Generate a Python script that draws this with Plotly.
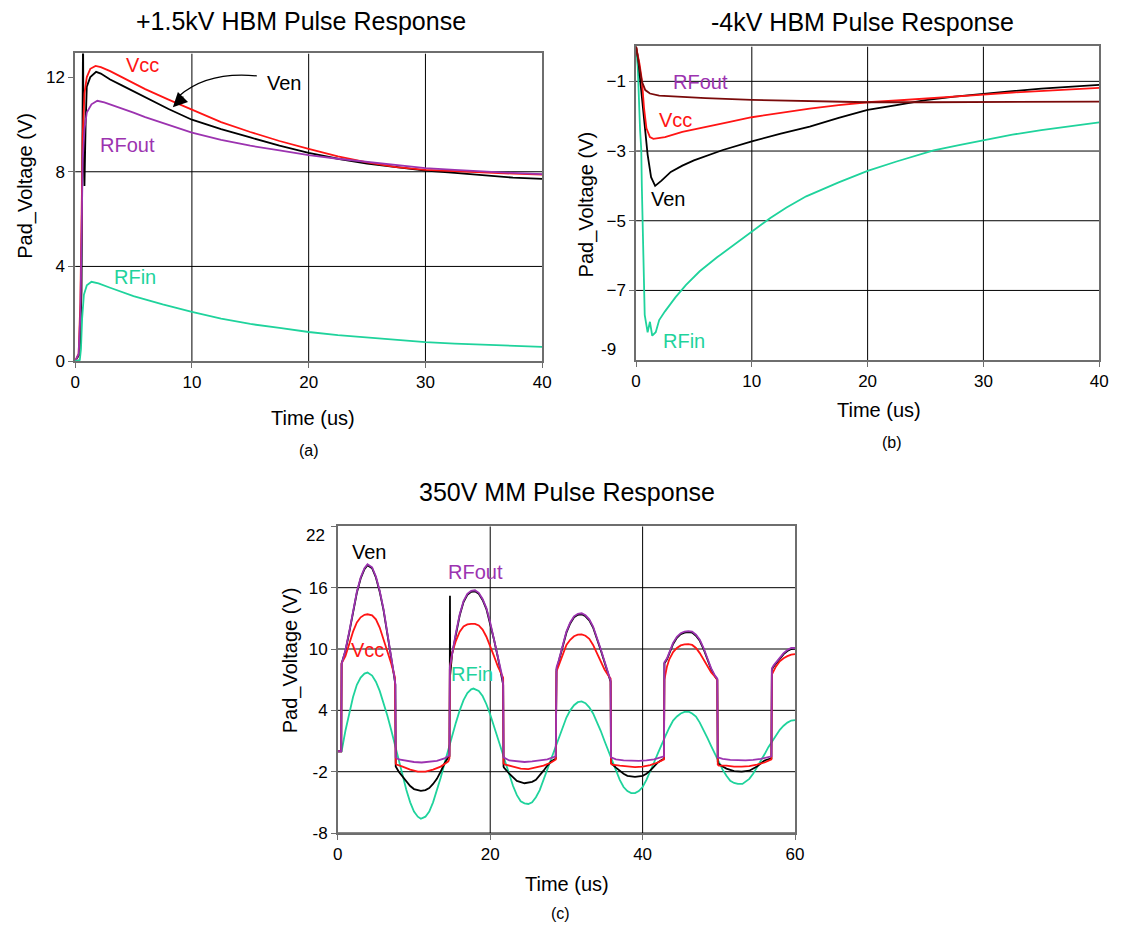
import plotly.graph_objects as go

# ---------------- Panel (a): +1.5kV HBM ----------------
A_T_VCC = [0, 0.3, 0.45, 0.55, 0.65, 0.8, 1.0, 1.3, 1.75, 2.2, 3, 4, 5, 6, 8, 10, 12.5, 15, 17.5, 20, 22.5, 25, 27.5, 30, 32.5, 35, 37.5, 40]
A_VCC = [0, 0.3, 2.5, 6, 9.5, 11.3, 12.0, 12.35, 12.47, 12.42, 12.25, 12.0, 11.75, 11.49, 11.05, 10.62, 10.1, 9.68, 9.3, 8.97, 8.65, 8.4, 8.2, 8.08, 8.02, 7.98, 7.92, 7.88]

A_T_VEN = [0, 0.4, 0.55, 0.62, 0.68, 0.72, 0.8, 0.9, 1.0, 1.3, 1.8, 2.2, 3, 4, 5, 6, 8, 10, 12.5, 15, 17.5, 20, 22.5, 25, 27.5, 30, 32.5, 35, 37.5, 40]
A_VEN = [0, 0.3, 3, 9, 14, 9, 7.4, 10, 11.6, 12.0, 12.22, 12.15, 11.9, 11.65, 11.4, 11.15, 10.65, 10.2, 9.8, 9.45, 9.1, 8.8, 8.55, 8.35, 8.2, 8.05, 7.95, 7.85, 7.75, 7.7]

A_T_RFOUT = [0, 0.3, 0.45, 0.55, 0.65, 0.8, 1.0, 1.4, 1.9, 2.5, 3, 4, 5, 6, 8, 10, 12.5, 15, 17.5, 20, 22.5, 25, 27.5, 30, 32.5, 35, 37.5, 40]
A_RFOUT = [0, 0.3, 2, 6, 8.5, 9.8, 10.5, 10.85, 11.0, 10.93, 10.85, 10.67, 10.5, 10.31, 9.97, 9.65, 9.35, 9.1, 8.9, 8.7, 8.55, 8.42, 8.28, 8.15, 8.08, 8.0, 7.95, 7.9]

A_T_RFIN = [0, 0.4, 0.5, 0.6, 0.75, 1.0, 1.4, 2, 3, 4, 5, 7.5, 10, 12.5, 15, 17.5, 20, 22.5, 25, 27.5, 30, 32.5, 35, 37.5, 40]
A_RFIN = [0, 0.05, 0.5, 1.8, 2.8, 3.2, 3.35, 3.28, 3.1, 2.92, 2.75, 2.4, 2.08, 1.8, 1.57, 1.4, 1.23, 1.1, 1.0, 0.9, 0.8, 0.74, 0.7, 0.64, 0.6]

# ---------------- Panel (b): -4kV HBM ----------------
B_T_RFOUT = [0, 0.2, 0.5, 0.8, 1.2, 2, 4, 6, 10, 14, 17.5, 20, 25, 30, 35, 40]
B_RFOUT = [0, -0.4, -1.0, -1.25, -1.35, -1.41, -1.45, -1.48, -1.53, -1.56, -1.58, -1.6, -1.6, -1.6, -1.6, -1.58]

B_T_VCC = [0, 0.3, 0.5, 0.7, 0.9, 1.2, 1.5, 2.5, 4, 6, 8, 10, 12.5, 15, 17.5, 20, 22.5, 25, 27.5, 30, 32.5, 35, 37.5, 40]
B_VCC = [0, -0.5, -0.95, -1.8, -2.35, -2.6, -2.65, -2.6, -2.45, -2.3, -2.17, -2.03, -1.9, -1.78, -1.68, -1.6, -1.55, -1.5, -1.44, -1.38, -1.32, -1.27, -1.23, -1.19]

B_T_VEN = [0, 0.2, 0.4, 0.7, 1.0, 1.3, 1.65, 2.2, 3, 4, 5, 7.5, 10, 12.5, 15, 17.5, 20, 22.5, 25, 27.5, 30, 32.5, 35, 37.5, 40]
B_VEN = [0, -0.4, -1.1, -2.2, -3.1, -3.75, -4.0, -3.85, -3.6, -3.42, -3.27, -2.97, -2.72, -2.5, -2.3, -2.05, -1.82, -1.68, -1.54, -1.44, -1.35, -1.28, -1.21, -1.15, -1.1]

B_T_RFIN = [0, 0.15, 0.35, 0.45, 0.5, 0.6, 0.75, 0.9, 1.0, 1.2, 1.4, 1.7, 2.0, 2.5, 3.4, 4.3, 5.5, 7, 8.5, 10, 11.6, 13, 14.7, 17.5, 20, 22.5, 25.7, 28, 30, 32.5, 35, 37.5, 40]
B_RFIN = [0, -0.6, -2.4, -2.95, -4.0, -6.0, -7.7, -8.0, -8.2, -7.9, -8.3, -8.2, -7.85, -7.6, -7.2, -6.85, -6.45, -6.05, -5.68, -5.3, -4.92, -4.62, -4.3, -3.9, -3.57, -3.3, -2.98, -2.82, -2.69, -2.53, -2.4, -2.28, -2.18]

# ---------------- Panel (c): 350V MM ----------------
C_T_VEN = [0, 0.45, 0.5, 1.0, 1.5, 2.0, 2.5, 3.0, 3.5, 3.9, 4.5, 5.0, 5.5, 6.0, 6.5, 7.0, 7.4, 7.55, 7.6,
           8.0, 8.5, 9.0, 9.5, 10.0, 10.9, 11.5, 12.0, 12.5, 13.0, 13.5, 14.0, 14.5, 14.65,
           14.7, 14.72, 14.75, 15.0, 15.5, 16.0, 16.5, 17.0, 17.5, 18.0, 18.5, 19.0, 19.5, 20.0, 20.5, 21.0, 21.5, 21.7, 21.75,
           21.8, 22.5, 23.0, 23.5, 24.5, 25.5, 26.0, 26.5, 27.0, 27.5, 28.0, 28.6,
           28.7, 29.0, 29.5, 30.0, 30.5, 31.0, 31.5, 32.0, 32.5, 33.0, 33.5, 34.0, 34.5, 35.0, 35.5, 35.8, 35.85,
           35.9, 36.5, 37.0, 37.5, 38.0, 39.0, 40.0, 40.5, 41.0, 41.5, 42.0, 42.8,
           42.86, 43.2, 43.5, 44.0, 44.5, 45.0, 45.5, 46.0, 46.5, 47.0, 47.5, 48.0, 48.5, 49.0, 49.5, 49.8, 49.86,
           49.9, 50.5, 51.0, 52.0, 53.0, 54.0, 54.5, 55.0, 55.5, 56.0, 56.9,
           56.96, 57.2, 57.5, 58.0, 58.5, 59.0, 59.5, 60.0]
C_VEN = [0, 0, 8.6, 9.8, 11.6, 13.6, 15.5, 16.9, 17.8, 18.2, 17.9, 17.0, 15.6, 13.8, 11.6, 9.4, 7.3, 6.5, -1.5,
         -2.0, -2.5, -3.0, -3.4, -3.7, -3.87, -3.8, -3.6, -3.2, -2.7, -2.0, -1.2, -0.6, -0.5,
         8.0, 15.2, 7.5, 9.5, 11.5, 13.3, 14.6, 15.3, 15.6, 15.65, 15.4, 14.8, 13.9, 12.5, 10.9, 9.2, 7.5, 6.5, -1.5,
         -1.6, -2.2, -2.6, -2.9, -3.13, -3.0, -2.8, -2.4, -1.9, -1.4, -1.0, -0.7,
         8.0, 8.8, 10.3, 11.6, 12.5, 13.1, 13.35, 13.4, 13.2, 12.8, 12.1, 11.1, 9.9, 8.7, 7.5, 6.8, -1.0,
         -1.2, -1.6, -1.9, -2.2, -2.4, -2.5, -2.4, -2.2, -1.9, -1.5, -1.1, -0.7,
         8.6, 9.0, 9.6, 10.5, 11.1, 11.45, 11.6, 11.66, 11.6, 11.3, 10.8, 10.0, 9.0, 8.0, 7.3, 7.0, -1.0,
         -1.2, -1.5, -1.7, -1.95, -2.0, -1.9, -1.7, -1.5, -1.2, -0.9, -0.7,
         8.0, 8.3, 8.6, 9.0, 9.5, 9.8, 10.0, 10.05]

C_T_RFOUT = [0, 0.45, 0.5, 1.0, 1.5, 2.0, 2.5, 3.0, 3.5, 3.9, 4.5, 5.0, 5.5, 6.0, 6.5, 7.0, 7.4, 7.55, 7.6,
             8.0, 9.0, 10.0, 11.0, 12.0, 13.0, 14.0, 14.65,
             14.7, 15.0, 15.5, 16.0, 16.5, 17.0, 17.5, 18.0, 18.5, 19.0, 19.5, 20.0, 20.5, 21.0, 21.5, 21.7, 21.75,
             22.5, 23.5, 24.5, 25.5, 26.5, 27.5, 28.6,
             28.7, 29.0, 29.5, 30.0, 30.5, 31.0, 31.5, 32.0, 32.5, 33.0, 33.5, 34.0, 34.5, 35.0, 35.5, 35.8, 35.85,
             36.5, 37.5, 38.5, 39.5, 40.5, 41.5, 42.8,
             42.86, 43.2, 43.5, 44.0, 44.5, 45.0, 45.5, 46.0, 46.5, 47.0, 47.5, 48.0, 48.5, 49.0, 49.5, 49.8, 49.86,
             50.5, 51.5, 52.5, 53.5, 54.5, 55.5, 56.9,
             56.96, 57.2, 57.5, 58.0, 58.5, 59.0, 59.5, 60.0]
C_RFOUT = [0, 0, 8.5, 9.9, 11.7, 13.7, 15.6, 17.0, 17.9, 18.3, 18.0, 17.1, 15.7, 13.9, 11.7, 9.5, 7.4, 6.6, -0.6,
           -0.8, -0.95, -1.05, -1.1, -1.05, -0.95, -0.7, -0.4,
           8.2, 9.6, 11.6, 13.4, 14.7, 15.4, 15.7, 15.75, 15.5, 14.9, 14.0, 12.6, 11.0, 9.3, 7.6, 6.6, -0.6,
           -0.9, -1.0, -1.05, -1.0, -0.9, -0.8, -0.5,
           8.2, 8.9, 10.4, 11.7, 12.6, 13.2, 13.45, 13.5, 13.3, 12.9, 12.2, 11.2, 10.0, 8.8, 7.6, 6.9, -0.6,
           -0.8, -0.9, -0.95, -0.95, -0.9, -0.8, -0.5,
           8.7, 9.1, 9.7, 10.6, 11.2, 11.55, 11.7, 11.75, 11.7, 11.4, 10.9, 10.1, 9.1, 8.1, 7.4, 7.1, -0.6,
           -0.75, -0.85, -0.9, -0.9, -0.85, -0.75, -0.5,
           8.1, 8.4, 8.7, 9.1, 9.6, 9.9, 10.1, 10.1]

C_T_VCC = [0, 0.45, 0.5, 1.0, 1.5, 2.0, 2.5, 3.0, 3.5, 3.9, 4.5, 5.0, 5.5, 6.0, 6.5, 7.0, 7.4, 7.5, 7.6,
           7.7, 8.5, 9.5, 10.5, 11.5, 12.5, 13.5, 14.5, 14.65,
           14.7, 15.0, 15.5, 16.0, 16.5, 17.0, 17.5, 18.0, 18.5, 19.0, 19.5, 20.0, 20.5, 21.0, 21.5, 21.7, 21.75,
           22.0, 23.0, 24.0, 25.0, 26.0, 27.0, 28.0, 28.6,
           28.7, 29.0, 29.5, 30.0, 30.5, 31.0, 31.5, 32.0, 32.5, 33.0, 33.5, 34.0, 34.5, 35.0, 35.5, 35.8, 35.85,
           36.0, 37.0, 38.0, 39.0, 40.0, 41.0, 42.0, 42.8,
           42.86, 43.2, 43.5, 44.0, 44.5, 45.0, 45.5, 46.0, 46.5, 47.0, 47.5, 48.0, 48.5, 49.0, 49.5, 49.8, 49.86,
           50.0, 51.0, 52.0, 53.0, 54.0, 55.0, 56.0, 56.9,
           56.96, 57.3, 57.5, 58.0, 58.5, 59.0, 59.5, 60.0]
C_VCC = [0, 0, 8.6, 9.3, 10.5, 11.7, 12.6, 13.1, 13.35, 13.4, 13.3, 12.9, 12.1, 11.0, 9.8, 8.6, 7.5, 7.2, -1.2,
         -1.3, -1.5, -1.8, -2.0, -2.0, -1.8, -1.5, -1.0, -0.7,
         8.0, 9.6, 10.8, 11.7, 12.2, 12.4, 12.46, 12.45, 12.3, 11.9, 11.2, 10.3, 9.3, 8.3, 7.6, 7.2, -1.2,
         -1.3, -1.5, -1.7, -1.75, -1.6, -1.4, -1.1, -0.8,
         7.8, 8.4, 9.5, 10.4, 10.9, 11.25, 11.4, 11.43, 11.3, 11.0, 10.4, 9.6, 8.8, 8.0, 7.4, 7.1, -1.2,
         -1.3, -1.4, -1.5, -1.55, -1.5, -1.35, -1.1, -0.8,
         7.0, 8.3, 9.0, 9.7, 10.1, 10.35, 10.45, 10.47, 10.4, 10.1, 9.6, 9.0, 8.3, 7.7, 7.3, 7.0, -1.3,
         -1.4, -1.4, -1.5, -1.5, -1.45, -1.3, -1.1, -0.8,
         7.5, 8.0, 8.3, 8.8, 9.1, 9.3, 9.45, 9.5]

C_T_RFIN = [0, 0.5, 1.0, 1.5, 2.0, 2.5, 3.0, 3.5, 3.9, 4.5, 5.0, 5.5, 6.0, 6.5, 7.0, 7.5, 8.0, 8.5, 9.0, 9.5, 10.0,
            10.5, 10.9, 11.5, 12.0, 12.5, 13.0, 13.5, 14.0, 14.5, 15.0, 15.5, 16.0, 16.5, 17.0, 17.5, 17.8, 18.5,
            19.0, 19.5, 20.0, 20.5, 21.0, 21.5, 22.0, 22.5, 23.0, 23.5, 24.0, 24.5, 25.0, 25.5, 26.0, 26.5, 27.0,
            27.5, 28.0, 28.5, 29.0, 29.5, 30.0, 30.5, 31.0, 31.5, 32.0, 32.5, 33.0, 33.5, 34.0, 34.5, 35.0, 35.5,
            36.0, 36.5, 37.0, 37.5, 38.0, 38.5, 39.0, 39.5, 40.0, 40.5, 41.0, 41.5, 42.0, 42.5, 43.0, 43.5, 44.0,
            44.5, 45.0, 45.5, 46.1, 46.5, 47.0, 47.5, 48.0, 48.5, 49.0, 49.5, 50.0, 50.5, 51.0, 51.5, 52.0, 52.5,
            53.1, 53.5, 54.0, 54.5, 55.0, 55.5, 56.0, 56.5, 57.0, 57.5, 58.0, 58.5, 59.0, 59.5, 60.0]
C_RFIN = [0, 0.0, 2.0, 3.8, 5.3, 6.5, 7.2, 7.6, 7.7, 7.4, 6.8, 5.9, 4.8, 3.5, 2.1, 0.6, -0.9, -2.4, -3.8, -5.0, -5.9,
          -6.4, -6.6, -6.4, -5.9, -5.0, -3.9, -2.6, -1.2, 0.2, 1.5, 2.8, 4.0, 5.0, 5.7, 6.05, 6.13, 5.9,
          5.4, 4.6, 3.6, 2.5, 1.3, 0.1, -1.1, -2.3, -3.4, -4.3, -4.9, -5.1, -5.16, -5.0, -4.5, -3.8, -2.8,
          -1.8, -0.7, 0.4, 1.4, 2.4, 3.3, 4.0, 4.5, 4.8, 4.87, 4.7, 4.3, 3.7, 2.9, 2.0, 1.0, 0.0,
          -1.0, -2.0, -2.8, -3.5, -3.9, -4.1, -4.1, -3.9, -3.5, -2.8, -2.0, -1.1, -0.2, 0.7, 1.5, 2.3, 3.0,
          3.4, 3.7, 3.85, 3.85, 3.7, 3.4, 2.8, 2.1, 1.3, 0.5, -0.3, -1.1, -1.8, -2.4, -2.9, -3.1, -3.2,
          -3.2, -3.0, -2.7, -2.2, -1.6, -1.0, -0.3, 0.4, 1.0, 1.6, 2.1, 2.5, 2.8, 3.0, 3.05]

# ticks / labels
A_YTICKS = [0, 4, 8, 12]
B_YTICKS = [-1, -3, -5, -7]
C_YTICKS = [22, 16, 10, 4, -2, -8]
AB_XTICKS = [0, 10, 20, 30, 40]
C_XTICKS = [0, 20, 40, 60]

RED = "#ff1414"
PURPLE = "#9c33b0"
TEAL = "#1fd39c"
BLACK = "#000000"
DARKRED = "#7a0a0a"
FONT = "Liberation Sans, Arial, sans-serif"
W, H = 1123, 939

fig = go.Figure()

def add(x, y, color, xa, ya, width=1.8):
    fig.add_trace(go.Scatter(x=x, y=y, mode="lines", line=dict(color=color, width=width),
                             xaxis=xa, yaxis=ya, showlegend=False, hoverinfo="skip"))

# panel a
add(A_T_VEN, A_VEN, BLACK, "x", "y")
add(A_T_VCC, A_VCC, RED, "x", "y")
add(A_T_RFOUT, A_RFOUT, PURPLE, "x", "y")
add(A_T_RFIN, A_RFIN, TEAL, "x", "y")
# panel b
add(B_T_RFIN, B_RFIN, TEAL, "x2", "y2")
add(B_T_VEN, B_VEN, BLACK, "x2", "y2")
add(B_T_VCC, B_VCC, RED, "x2", "y2")
add(B_T_RFOUT, B_RFOUT, DARKRED, "x2", "y2")
# panel c
add(C_T_RFIN, C_RFIN, TEAL, "x3", "y3")
add(C_T_VEN, C_VEN, BLACK, "x3", "y3")
add(C_T_VCC, C_VCC, RED, "x3", "y3")
add(C_T_RFOUT, C_RFOUT, PURPLE, "x3", "y3")

def px_dom(a, b, total):
    return [a / total, b / total]

def py_dom(top, bottom):
    return [1 - bottom / H, 1 - top / H]

axis_common = dict(showline=True, mirror=True, linecolor="#6e6e6e", linewidth=1.5,
                   ticks="outside", ticklen=5, tickcolor="#6e6e6e", showgrid=False, zeroline=False,
                   tickfont=dict(family=FONT, size=17, color="#000"))

fig.update_layout(
    width=W, height=H, margin=dict(l=0, r=0, t=0, b=0), autosize=False,
    paper_bgcolor="white", plot_bgcolor="white",
    font=dict(family=FONT, color="#000"),
    xaxis=dict(domain=px_dom(71, 544, W), range=[0, 40], tickvals=AB_XTICKS, anchor="y", **axis_common),
    yaxis=dict(domain=py_dom(54, 365), range=[0, 13], tickvals=A_YTICKS, anchor="x", **axis_common),
    xaxis2=dict(domain=px_dom(639, 1108, W), range=[0, 40], tickvals=AB_XTICKS, anchor="y2", **axis_common),
    yaxis2=dict(domain=py_dom(47, 364), range=[-9, 0], tickvals=B_YTICKS, anchor="x2", **axis_common),
    xaxis3=dict(domain=px_dom(337, 800, W), range=[0, 60], tickvals=C_XTICKS, anchor="y3", **axis_common),
    yaxis3=dict(domain=py_dom(532, 842), range=[-8, 22], tickvals=C_YTICKS,
                ticktext=["", "16", "10", "4", "-2", "-8"], anchor="x3", **axis_common),
)

shapes = []
def hline(v, xa, ya, x0, x1):
    shapes.append(dict(type="line", xref=xa, yref=ya, x0=x0, x1=x1, y0=v, y1=v,
                       line=dict(color="black", width=1), layer="below"))
def vline(v, xa, ya, y0, y1):
    shapes.append(dict(type="line", xref=xa, yref=ya, x0=v, x1=v, y0=y0, y1=y1,
                       line=dict(color="black", width=1), layer="below"))

for v in [4, 8]:
    hline(v, "x", "y", 0, 40)
for v in [10, 20, 30]:
    vline(v, "x", "y", 0, 13)
for v in [-1, -3, -5, -7]:
    hline(v, "x2", "y2", 0, 40)
for v in [10, 20, 30]:
    vline(v, "x2", "y2", -9, 0)
for v in [16, 10, 4, -2, -8]:
    hline(v, "x3", "y3", 0, 60)
for v in [20, 40]:
    vline(v, "x3", "y3", -8, 22)

# curved arrow to Ven in panel (a)
shapes.append(dict(type="path", xref="x", yref="y",
                   path="M 15.56 12.05 Q 11.33 12.25 8.9 11.2",
                   line=dict(color="black", width=1.3)))
fig.update_layout(shapes=shapes)

ann = []
def txt(text, x, y, size, color="#000", xref="paper", yref="paper", xanchor="center", textangle=0):
    if xref == "paper":
        x = x / W
        y = 1 - y / H
    ann.append(dict(text=text, x=x, y=y, xref=xref, yref=yref, showarrow=False,
                    xanchor=xanchor, yanchor="middle", textangle=textangle,
                    font=dict(family=FONT, size=size, color=color)))

# titles
txt("+1.5kV HBM Pulse Response", 300, 21, 25)
txt("-4kV HBM Pulse Response", 868, 22, 25)
txt("350V MM Pulse Response", 569, 497, 25)
# axis titles
txt("Time (us)", 312, 422, 20)
txt("Time (us)", 885, 414, 20)
txt("Time (us)", 569, 894, 20)
txt("Pad_Voltage (V)", 21, 188, 20, textangle=-90)
txt("Pad_Voltage (V)", 589, 207, 20, textangle=-90)
txt("Pad_Voltage (V)", 290, 667, 20, textangle=-90)
# sub labels
txt("(a)", 308, 455, 16)
txt("(b)", 898, 447, 16)
txt("(c)", 563, 923, 16)
# edge tick labels nudged inside
txt("-9", 621, 353, 17, xanchor="right")
txt("22", 326, 541, 17, xanchor="right")

# series labels panel a
txt("Vcc", 5.75, 12.5, 20, RED, "x", "y")
txt("Ven", 17.9, 11.73, 20, BLACK, "x", "y")
txt("RFout", 4.5, 9.15, 20, PURPLE, "x", "y")
txt("RFin", 5.15, 3.54, 20, TEAL, "x", "y")
# panel b
txt("RFout", 5.54, -1.02, 20, PURPLE, "x2", "y2")
txt("Vcc", 3.41, -2.11, 20, RED, "x2", "y2")
txt("Ven", 2.77, -4.39, 20, BLACK, "x2", "y2")
txt("RFin", 4.18, -8.45, 20, TEAL, "x2", "y2")
# panel c
txt("Ven", 4.1, 19.5, 20, BLACK, "x3", "y3")
txt("RFout", 18.1, 17.5, 20, PURPLE, "x3", "y3")
txt("Vcc", 3.9, 9.9, 20, RED, "x3", "y3")
txt("RFin", 17.6, 7.6, 20, TEAL, "x3", "y3")

# arrowhead
ann.append(dict(x=8.37, y=10.73, xref="x", yref="y", ax=12, ay=-12, axref="pixel", ayref="pixel",
                text="", showarrow=True, arrowhead=2, arrowsize=2.2, arrowwidth=1.3, arrowcolor="black"))

fig.update_layout(annotations=ann)
fig.write_html("out.html")
